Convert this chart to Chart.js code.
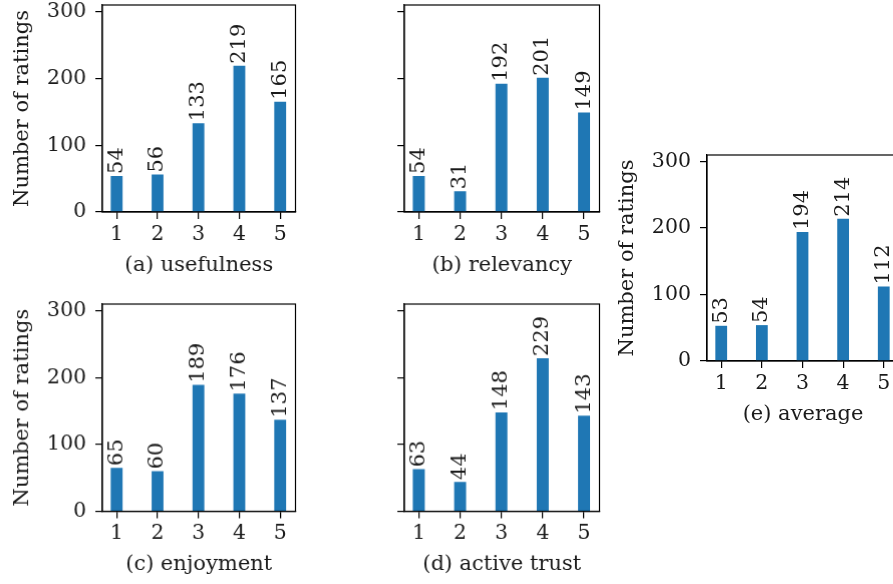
<!DOCTYPE html>
<html><head><meta charset="utf-8">
<script src="https://cdn.jsdelivr.net/npm/chart.js@4/dist/chart.umd.min.js"></script>
<style>
html,body{margin:0;padding:0;width:893px;height:584px;overflow:hidden;background:#fff;}
#root{position:relative;width:893px;height:584px;overflow:hidden;}
.panel{position:absolute;}
canvas{display:block;}
</style></head><body>
<div id="root"></div>
<script>
// ---- data ----
const categories = [1, 2, 3, 4, 5];
const usefulness = [54, 56, 133, 219, 165];
const relevancy = [54, 31, 192, 201, 149];
const enjoyment = [65, 60, 189, 176, 137];
const activeTrust = [63, 44, 148, 229, 143];
const average = [53, 54, 194, 214, 112];
const yTicks = [0, 100, 200, 300];
const xTicks = [1, 2, 3, 4, 5];
const yLabel = 'Number of ratings';
const panelTitles = ['(a) usefulness', '(b) relevancy', '(c) enjoyment', '(d) active trust', '(e) average'];

// ---- layout / style ----
const FONT = 'DejaVu Serif';
const TICK_FS = 20.5, BARLBL_FS = 21, YTITLE_FS = 21, XTITLE_FS = 21;
const TEXT = '#1a1a1a';
const BAR = '#1f77b4';
const YW = 102, XH = 66, PT = 12, PR = 4;

const panels = [
  {title: panelTitles[0], values: usefulness, showY: true,  rect: {l: 102, t: 5,   r: 294.5, b: 212}},
  {title: panelTitles[1], values: relevancy,  showY: false, rect: {l: 404, t: 5,   r: 598.5, b: 212}},
  {title: panelTitles[2], values: enjoyment,  showY: true,  rect: {l: 102, t: 304, r: 294.5, b: 510.5}},
  {title: panelTitles[3], values: activeTrust,showY: false, rect: {l: 404, t: 304, r: 598.5, b: 510.5}},
  {title: panelTitles[4], values: average,    showY: true,  rect: {l: 707, t: 155, r: 899,   b: 361}}
];

const spinePlugin = {
  id: 'spines',
  afterDraw(chart) {
    const a = chart.chartArea, ctx = chart.ctx;
    ctx.save();
    ctx.strokeStyle = '#000';
    ctx.lineWidth = 1.2;
    ctx.strokeRect(a.left, a.top, a.right - a.left, a.bottom - a.top);
    ctx.restore();
  }
};

const labelPlugin = {
  id: 'barLabels',
  afterDatasetsDraw(chart) {
    const ctx = chart.ctx;
    const meta = chart.getDatasetMeta(0);
    const ds = chart.data.datasets[0];
    ctx.save();
    ctx.fillStyle = TEXT;
    ctx.font = BARLBL_FS + 'px "' + FONT + '"';
    ctx.textAlign = 'left';
    ctx.textBaseline = 'middle';
    meta.data.forEach((el, i) => {
      ctx.save();
      ctx.translate(el.x, el.y - 2);
      ctx.rotate(-Math.PI / 2);
      ctx.fillText(String(ds.data[i].y), 0, 0);
      ctx.restore();
    });
    ctx.restore();
  }
};

const root = document.getElementById('root');

panels.forEach(p => {
  const r = p.rect;
  const w = YW + (r.r - r.l) + PR;
  const h = PT + (r.b - r.t) + XH;
  const div = document.createElement('div');
  div.className = 'panel';
  div.style.left = (r.l - YW) + 'px';
  div.style.top = (r.t - PT) + 'px';
  div.style.width = w + 'px';
  div.style.height = h + 'px';
  const c = document.createElement('canvas');
  div.appendChild(c);
  root.appendChild(div);

  const tickFont = {family: FONT, size: TICK_FS};
  new Chart(c, {
    type: 'bar',
    data: {
      datasets: [{
        data: categories.map((x, i) => ({x: x, y: p.values[i]})),
        backgroundColor: BAR,
        borderWidth: 0,
        barPercentage: 0.29,
        categoryPercentage: 1
      }]
    },
    options: {
      responsive: true,
      maintainAspectRatio: false,
      animation: false,
      events: [],
      layout: {padding: {top: PT, right: PR, left: 0, bottom: 0}},
      plugins: {legend: {display: false}, tooltip: {enabled: false}},
      scales: {
        x: {
          type: 'linear',
          offset: false,
          min: 0.65, max: 5.375,
          afterBuildTicks: s => { s.ticks = xTicks.map(v => ({value: v})); },
          afterFit: s => { s.height = XH; s.paddingLeft = 0; s.paddingRight = 0; },
          grid: {display: true, offset: false, drawOnChartArea: false, drawTicks: true, tickLength: 7, color: '#000', lineWidth: 1.2},
          border: {display: true, color: '#000', width: 1.2},
          ticks: {color: TEXT, font: tickFont, padding: 3, maxRotation: 0, autoSkip: false, callback: v => String(v)},
          title: {display: true, text: p.title, color: TEXT, font: {family: FONT, size: XTITLE_FS}, padding: {top: 0, bottom: 0}}
        },
        y: {
          type: 'linear',
          min: 0, max: 310,
          afterBuildTicks: s => { s.ticks = yTicks.map(v => ({value: v})); },
          afterFit: s => { s.width = YW; s.paddingTop = 0; s.paddingBottom = 0; },
          grid: {display: true, drawOnChartArea: false, drawTicks: true, tickLength: 7, color: '#000', lineWidth: 1.2},
          border: {display: true, color: '#000', width: 1.2},
          ticks: {display: p.showY, color: TEXT, font: tickFont, padding: 9, callback: v => String(v)},
          title: {display: p.showY, text: yLabel, color: TEXT, font: {family: FONT, size: YTITLE_FS}, padding: {top: 10, bottom: 0}}
        }
      }
    },
    plugins: [spinePlugin, labelPlugin]
  });
});
</script>
</body></html>
